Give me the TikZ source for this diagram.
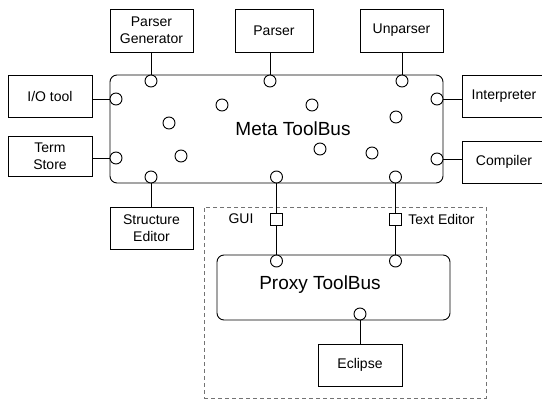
\documentclass[tikz,border=0pt]{standalone}
\usepackage{fontspec}
\setmainfont{Liberation Sans}
\begin{document}
\begin{tikzpicture}[x=1pt,y=-1pt,line width=0.9pt,
  comp/.style={draw,minimum width=83pt,minimum height=42pt,inner sep=0pt,align=center,
    font=\fontsize{14}{17}\selectfont},
  port/.style={draw,fill=white,circle,minimum size=12pt,inner sep=0pt},
  plug/.style={draw,fill=white,rectangle,minimum size=12pt,inner sep=0pt},
  bus/.style={draw,rounded corners=7pt,inner sep=0pt},
  lbl/.style={inner sep=0pt,font=\fontsize{14}{17}\selectfont},
  title/.style={inner sep=0pt,font=\fontsize{19}{22}\selectfont},
  zone/.style={draw=black!55,dash pattern=on 4pt off 3pt,inner sep=0pt}]
\useasboundingbox (0,0) rectangle (542,402);

% plugin zone holding the proxy bus
\node[zone,minimum width=282pt,minimum height=191pt] (zone) at (345,302.5) {};

% buses
\node[bus,minimum width=333pt,minimum height=108pt] (meta) at (276.5,129) {};
\node[title] (metalbl) at (293,129) {Meta ToolBus};
\node[bus,minimum width=233pt,minimum height=65pt] (proxy) at (333.5,287.5) {};
\node[title] (proxylbl) at (320,285) {Proxy ToolBus};

% tools
\node[comp,minimum height=43pt] (pgen) at (151.5,30.5) {Parser\\Generator};
\node[comp,minimum width=78pt,minimum height=43pt] (parser) at (274,30.5) {Parser};
\node[comp,minimum height=43pt] (unparser) at (401.5,30.5) {Unparser};
\node[comp,minimum width=84pt] (io) at (50,96) {I/O tool};
\node[comp,minimum width=84pt,minimum height=40pt] (term) at (50,156) {Term\\Store};
\node[comp,minimum width=84pt] (interp) at (504,96) {Interpreter};
\node[comp,minimum width=84pt] (compiler) at (504,162) {Compiler};
\node[comp] (struct) at (151.5,228) {Structure\\Editor};
\node[comp,minimum width=84pt] (eclipse) at (360,365) {Eclipse};

% ports on the meta bus
\node[port] (mpgen) at (151,81) {};
\node[port] (mparser) at (270,81) {};
\node[port] (munparser) at (402,81) {};
\node[port] (mio) at (116,99) {};
\node[port] (mterm) at (116,158) {};
\node[port] (minterp) at (437,99) {};
\node[port] (mcompiler) at (437,159) {};
\node[port] (mstruct) at (151,177) {};
\node[port] (mgui) at (276.5,177) {};
\node[port] (mtext) at (395.5,177) {};

% free ports inside the meta bus
\node[port] (f1) at (222,105) {};
\node[port] (f2) at (169,123) {};
\node[port] (f3) at (181,156) {};
\node[port] (f4) at (312,105) {};
\node[port] (f5) at (396,117) {};
\node[port] (f6) at (320,149) {};
\node[port] (f7) at (372,153) {};

% ports on the proxy bus
\node[port] (pgui) at (276.5,261) {};
\node[port] (ptext) at (395.5,261) {};
\node[port] (peclipse) at (360,314) {};

% plugs between the two buses
\node[plug] (sgui) at (276.5,219) {};
\node[plug] (stext) at (395.5,219) {};
\node[lbl] (guilbl) at (241,219) {GUI};
\node[lbl,anchor=west] (textlbl) at (408,219) {Text Editor};

% connectors
\draw (pgen.south -| mpgen) -- (mpgen);
\draw (parser.south -| mparser) -- (mparser);
\draw (unparser.south -| munparser) -- (munparser);
\draw (io.east |- mio) -- (mio);
\draw (term.east |- mterm) -- (mterm);
\draw (interp.west |- minterp) -- (minterp);
\draw (compiler.west |- mcompiler) -- (mcompiler);
\draw (mstruct) -- (struct.north -| mstruct);
\draw (mgui) -- (sgui) -- (pgui);
\draw (mtext) -- (stext) -- (ptext);
\draw (peclipse) -- (eclipse.north -| peclipse);
\end{tikzpicture}
\end{document}
